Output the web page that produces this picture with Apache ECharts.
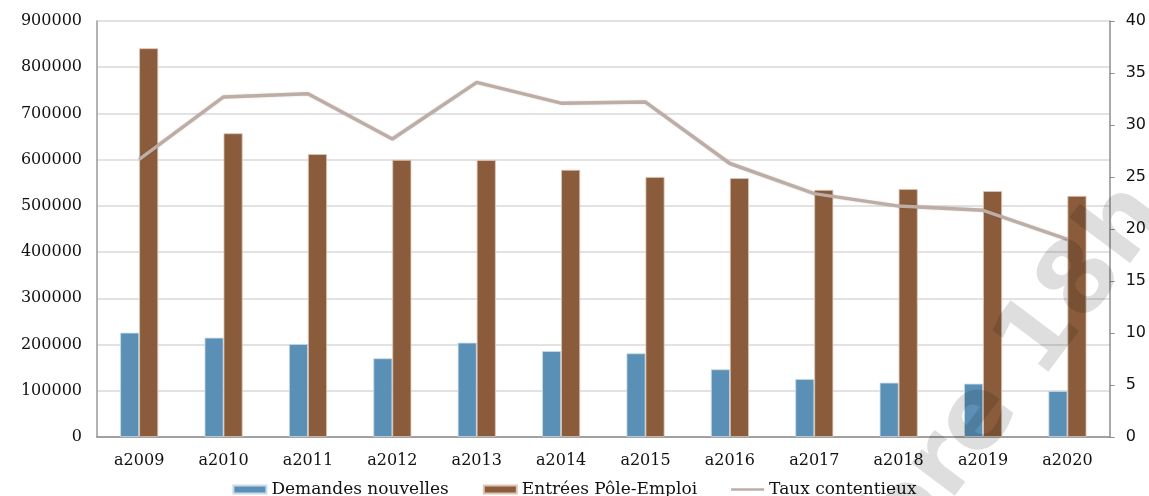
<!DOCTYPE html>
<html>
<head>
<meta charset="utf-8">
<script src="https://cdn.jsdelivr.net/npm/echarts@6/dist/echarts.min.js"></script>
<style>
  html, body { margin: 0; padding: 0; background: #fff; }
  #chart { width: 1149px; height: 496px; }
</style>
</head>
<body>
<div id="chart"></div>
<script>
// Années
const categories = ['a2009', 'a2010', 'a2011', 'a2012', 'a2013', 'a2014',
                    'a2015', 'a2016', 'a2017', 'a2018', 'a2019', 'a2020'];

// Demandes nouvelles
const demandesNouvelles = [225600, 214800, 201200, 170200, 204000, 186000,
                           181000, 146400, 125500, 117500, 115300, 99500];

// Entrées Pôle-Emploi
const entreesPoleEmploi = [841000, 657000, 612000, 599500, 599000, 578000,
                           562500, 560000, 534500, 536500, 532000, 521500];

// Taux contentieux (axe de droite)
const tauxContentieux = [26.7, 32.7, 33.0, 28.65, 34.1, 32.1,
                         32.2, 26.3, 23.4, 22.2, 21.8, 19.0];

const leftTicks = { min: 0, max: 900000, interval: 100000 };
const rightTicks = { min: 0, max: 40, interval: 5 };

const serif = '"DejaVu Serif", "Liberation Serif", serif';
const sans = '"DejaVu Sans", "Liberation Sans", sans-serif';

const blue = '#5b90b6';
const brown = '#8a5c3c';
const taupe = '#bdada5';

const chart = echarts.init(document.getElementById('chart'));

chart.setOption({
  animation: false,
  backgroundColor: '#ffffff',
  grid: { left: 97, right: 37, top: 21, bottom: 59, containLabel: false },
  legend: {
    top: 476,
    left: 'center',
    itemGap: 34,
    itemWidth: 33,
    itemHeight: 8,
    textStyle: { fontFamily: serif, fontSize: 17, color: '#111' },
    data: [
      { name: 'Demandes nouvelles', icon: 'rect' },
      { name: 'Entrées Pôle-Emploi', icon: 'rect' },
      { name: 'Taux contentieux', icon: 'path://M0,0 H40 V3 H0 Z', itemStyle: { color: taupe } }
    ]
  },
  xAxis: {
    type: 'category',
    data: categories,
    axisLine: { lineStyle: { color: '#8c8c8c', width: 1.5 } },
    axisTick: { show: false },
    axisLabel: { fontFamily: serif, fontSize: 16, color: '#111', margin: 16 }
  },
  yAxis: [
    {
      type: 'value',
      min: leftTicks.min, max: leftTicks.max, interval: leftTicks.interval,
      axisLine: { show: true, lineStyle: { color: '#9a9a9a', width: 1.5 } },
      axisTick: { show: false },
      splitLine: { lineStyle: { color: '#d9d9d9', width: 1.5 } },
      axisLabel: { fontFamily: serif, fontSize: 16, color: '#111', margin: 15,
                   formatter: v => String(v) }
    },
    {
      type: 'value',
      min: rightTicks.min, max: rightTicks.max, interval: rightTicks.interval,
      position: 'right',
      axisLine: { show: true, lineStyle: { color: '#8c8c8c', width: 1.5 } },
      axisTick: { show: true, length: 5, lineStyle: { color: '#8c8c8c' } },
      splitLine: { show: false },
      axisLabel: { fontFamily: sans, fontSize: 16, color: '#111', margin: 16,
                   formatter: v => String(v) }
    }
  ],
  series: [
    {
      name: 'Demandes nouvelles',
      type: 'bar',
      data: demandesNouvelles,
      barWidth: 19,
      barGap: '0%',
      itemStyle: { color: blue, borderColor: '#c9dbe8', borderWidth: 0.8 }
    },
    {
      name: 'Entrées Pôle-Emploi',
      type: 'bar',
      data: entreesPoleEmploi,
      barWidth: 19,
      barGap: '0%',
      itemStyle: { color: brown, borderColor: '#dcc5b6', borderWidth: 0.8 }
    },
    {
      name: 'Taux contentieux',
      type: 'line',
      yAxisIndex: 1,
      data: tauxContentieux,
      symbol: 'none',
      itemStyle: { color: taupe },
      lineStyle: { color: taupe, width: 3.5, shadowColor: 'rgba(0,0,0,0.15)', shadowBlur: 2 },
      z: 3
    }
  ],
  graphic: [
    {
      // filigrane
      type: 'text',
      x: 886,
      y: 544,
      rotation: 53 * Math.PI / 180,
      z: 100,
      silent: true,
      style: {
        text: 'bre 18h',
        font: 'bold 100px "DejaVu Sans", sans-serif',
        fill: 'rgba(0,0,0,0.13)',
        textAlign: 'left',
        verticalAlign: 'middle'
      }
    }
  ]
});
</script>
</body>
</html>
